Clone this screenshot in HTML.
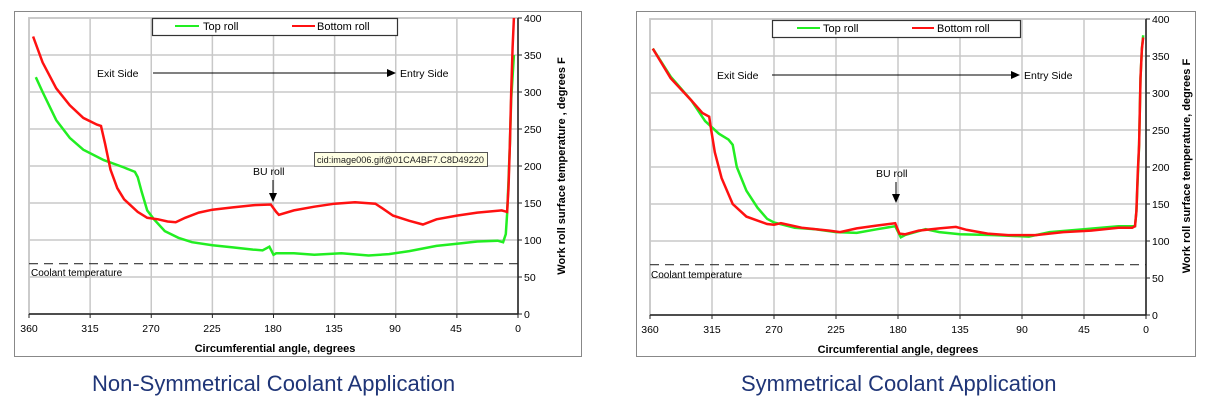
<!DOCTYPE html>
<html><head><meta charset="utf-8">
<style>
html,body{margin:0;padding:0;background:#fff;width:1212px;height:417px;overflow:hidden;}
svg{position:absolute;left:0;top:0;}
text{font-family:"Liberation Sans",sans-serif;}
.cap{position:absolute;top:371px;font:22px "Liberation Sans",sans-serif;color:#1f3577;}
</style></head><body>
<svg width="1212" height="417" id="s">
<rect x="14.5" y="11.5" width="567" height="345" fill="#fff" stroke="#888" stroke-width="1"/>
<g id="gL"></g>
<rect x="152.5" y="18.5" width="245" height="17" fill="#fff" stroke="#333" stroke-width="1.2"/>
<line x1="175" y1="26" x2="199" y2="26" stroke="#22ee22" stroke-width="2"/>
<text x="203" y="30" font-size="11">Top roll</text>
<line x1="292" y1="26" x2="315" y2="26" stroke="#ff1111" stroke-width="2"/>
<text x="317" y="30" font-size="11">Bottom roll</text>
<text x="97" y="77" font-size="10.5">Exit Side</text>
<line x1="153" y1="73" x2="388" y2="73" stroke="#000" stroke-width="1"/>
<polygon points="387,69 396,73 387,77" fill="#000"/>
<text x="400" y="77" font-size="10.5">Entry Side</text>
<text x="253" y="175" font-size="10.5">BU roll</text>
<line x1="273" y1="180" x2="273" y2="194" stroke="#000" stroke-width="1"/>
<polygon points="269,193 273,202 277,193" fill="#000"/>
<rect x="314.5" y="152.5" width="173" height="14" fill="#ffffe4" stroke="#555"/>
<text x="317" y="163" font-size="9" fill="#222" textLength="167" lengthAdjust="spacingAndGlyphs">cid:image006.gif@01CA4BF7.C8D49220</text>
<text x="31" y="276" font-size="10">Coolant temperature</text>
<text x="275" y="352" font-size="11" font-weight="bold" text-anchor="middle">Circumferential angle, degrees</text>
<text transform="translate(565,166) rotate(-90)" font-size="11" font-weight="bold" text-anchor="middle">Work roll surface temperature , degrees F</text>
<rect x="636.5" y="11.5" width="559" height="345" fill="#fff" stroke="#888" stroke-width="1"/>
<g id="gR"></g>
<rect x="772.5" y="20.5" width="248" height="17" fill="#fff" stroke="#333" stroke-width="1.2"/>
<line x1="797" y1="28" x2="820" y2="28" stroke="#22ee22" stroke-width="2"/>
<text x="823" y="32" font-size="11">Top roll</text>
<line x1="912" y1="28" x2="934" y2="28" stroke="#ff1111" stroke-width="2"/>
<text x="937" y="32" font-size="11">Bottom roll</text>
<text x="717" y="79" font-size="10.5">Exit Side</text>
<line x1="772" y1="75" x2="1012" y2="75" stroke="#000" stroke-width="1"/>
<polygon points="1011,71 1020,75 1011,79" fill="#000"/>
<text x="1024" y="79" font-size="10.5">Entry Side</text>
<text x="876" y="177" font-size="10.5">BU roll</text>
<line x1="896" y1="182" x2="896" y2="195" stroke="#000" stroke-width="1"/>
<polygon points="892,194 896,203 900,194" fill="#000"/>
<text x="651" y="278" font-size="10">Coolant temperature</text>
<text x="898" y="353" font-size="11" font-weight="bold" text-anchor="middle">Circumferential angle, degrees</text>
<text transform="translate(1190,166) rotate(-90)" font-size="11" font-weight="bold" text-anchor="middle">Work roll surface temperature, degrees F</text>
<g font-size="10.5" text-anchor="middle">
<text x="29" y="332">360</text><text x="90" y="332">315</text><text x="151" y="332">270</text><text x="212" y="332">225</text><text x="273" y="332">180</text><text x="334" y="332">135</text><text x="395" y="332">90</text><text x="456" y="332">45</text><text x="518" y="332">0</text>
<text x="650" y="333">360</text><text x="712" y="333">315</text><text x="774" y="333">270</text><text x="836" y="333">225</text><text x="898" y="333">180</text><text x="960" y="333">135</text><text x="1022" y="333">90</text><text x="1084" y="333">45</text><text x="1146" y="333">0</text>
</g>
<g font-size="10.5">
<text x="524" y="318">0</text><text x="524" y="281">50</text><text x="524" y="244">100</text><text x="524" y="207">150</text><text x="524" y="170">200</text><text x="524" y="133">250</text><text x="524" y="96">300</text><text x="524" y="59">350</text><text x="524" y="22">400</text>
<text x="1152" y="319">0</text><text x="1152" y="282">50</text><text x="1152" y="245">100</text><text x="1152" y="208">150</text><text x="1152" y="171">200</text><text x="1152" y="134">250</text><text x="1152" y="97">300</text><text x="1152" y="60">350</text><text x="1152" y="23">400</text>
</g>
</svg>
<div class="cap" style="left:92px;">Non-Symmetrical Coolant Application</div>
<div class="cap" style="left:741px;">Symmetrical Coolant Application</div>
<script>
var NS="http://www.w3.org/2000/svg";
function el(g,n,a){var e=document.createElementNS(NS,n);for(var k in a)e.setAttribute(k,a[k]);g.appendChild(e);return e;}
function chart(id,x0,x1,y0,y400,red,green){
 var g=document.getElementById(id);
 var X=function(a){return x1-(x1-x0)*a/360;},Y=function(t){return y0-(y0-y400)*t/400;};
 el(g,"rect",{x:x0,y:y400,width:x1-x0,height:y0-y400,fill:"#fff",stroke:"#aaa","stroke-width":1.5});
 for(var a=0;a<=360;a+=45)el(g,"line",{x1:X(a),y1:y400,x2:X(a),y2:y0,stroke:"#c8c8c8","stroke-width":1.5});
 for(var t=50;t<=400;t+=50)el(g,"line",{x1:x0,y1:Y(t),x2:x1,y2:Y(t),stroke:"#c8c8c8","stroke-width":1.5});
 el(g,"line",{x1:x0,y1:Y(68),x2:x1,y2:Y(68),stroke:"#333","stroke-width":1.2,"stroke-dasharray":"9,6"});
 el(g,"line",{x1:x0,y1:y0,x2:x1,y2:y0,stroke:"#222","stroke-width":1.5});
 el(g,"line",{x1:x1,y1:y400,x2:x1,y2:y0,stroke:"#222","stroke-width":1.5});
 for(var a=0;a<=360;a+=45)el(g,"line",{x1:X(a),y1:y0,x2:X(a),y2:y0+4,stroke:"#222"});
 for(var t=0;t<=400;t+=50)el(g,"line",{x1:x1,y1:Y(t),x2:x1+4,y2:Y(t),stroke:"#222"});
 var pts=function(d){return d.map(function(p){return X(p[0]).toFixed(1)+","+Y(p[1]).toFixed(1)}).join(" ");};
 el(g,"polyline",{points:pts(green),fill:"none",stroke:"#22ee22","stroke-width":2.5});
 el(g,"polyline",{points:pts(red),fill:"none",stroke:"#ff1111","stroke-width":2.5});
}
chart("gL",29,518,314,18,
[[357,375],[350,340],[340,305],[330,282],[320,265],[310,256],[307,254],[304,230],[300,195],[295,170],[290,155],[280,138],[273,130],[265,128],[258,125],[252,124],[245,130],[235,137],[225,141],[210,144],[195,147],[182,148],[178,138],[176,134],[165,140],[150,145],[135,149],[120,151],[105,149],[100,143],[92,133],[80,126],[70,121],[60,128],[45,133],[30,137],[12,140],[8,138],[7,170],[6,230],[5,300],[4,360],[3,400]],
[[355,320],[350,300],[340,262],[330,238],[320,222],[305,208],[290,198],[282,192],[280,185],[277,165],[273,140],[268,128],[260,112],[250,103],[240,97],[225,93],[210,90],[195,87],[188,86],[183,91],[180,80],[178,82],[165,82],[150,80],[130,82],[110,79],[95,81],[80,85],[60,92],[45,95],[30,98],[15,99],[11,97],[9,108],[8,135],[7,180],[6,230],[5,290],[3,350]]);
chart("gR",650,1146,315,19,
[[358,360],[345,320],[330,290],[322,273],[317,268],[316,255],[313,220],[308,185],[300,150],[290,133],[275,123],[270,122],[265,124],[250,118],[230,114],[222,112],[210,117],[195,121],[182,124],[179,110],[175,109],[165,114],[150,117],[138,119],[130,115],[115,110],[100,108],[80,108],[60,112],[40,114],[20,118],[10,118],[8,120],[7,140],[6,190],[5,230],[4,320],[3,360],[2,375]],
[[358,360],[345,322],[330,290],[320,262],[310,245],[303,237],[300,230],[297,200],[290,168],[282,145],[275,130],[270,125],[255,118],[240,116],[225,112],[210,111],[195,116],[182,120],[178,105],[175,108],[160,116],[150,112],[135,109],[110,108],[85,106],[70,112],[45,116],[20,120],[10,120],[8,120],[7,140],[5,230],[4,320],[3,360],[2,378]]);
</script>
</body></html>
